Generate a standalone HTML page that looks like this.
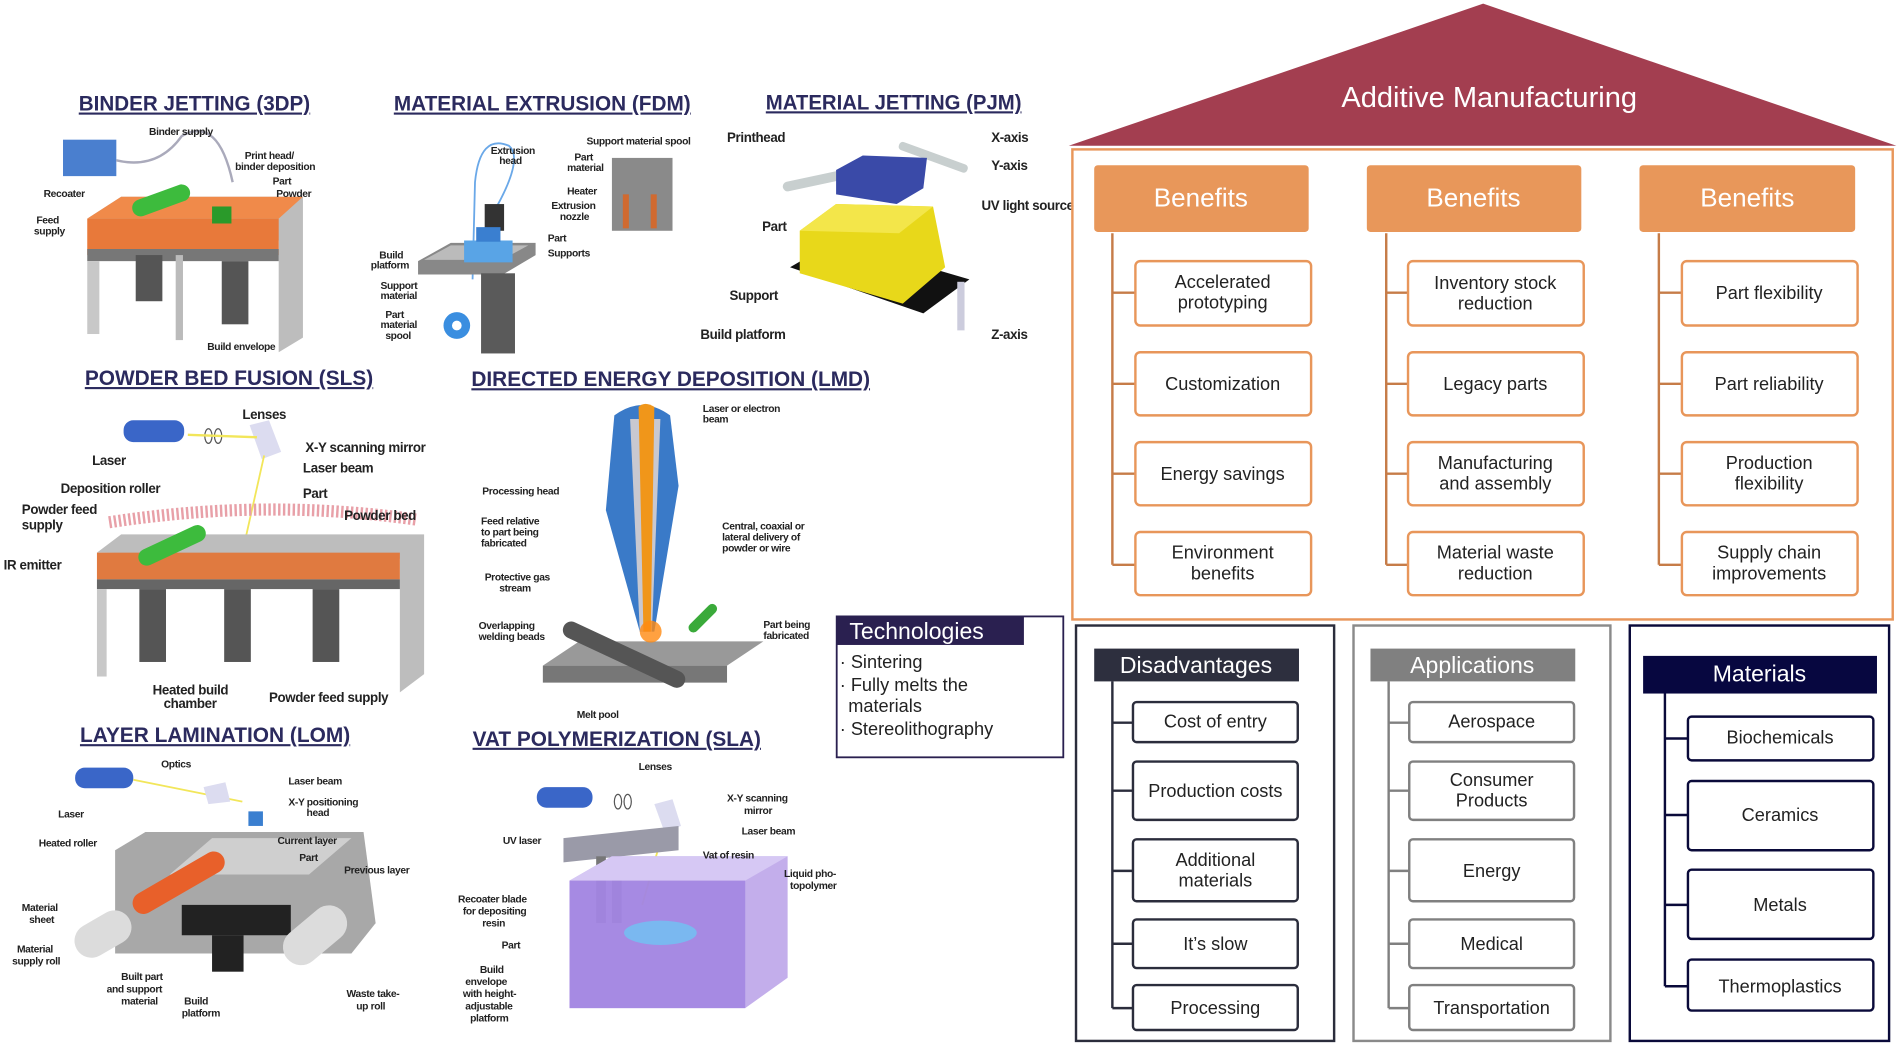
<!DOCTYPE html>
<html><head><meta charset="utf-8"><style>
html,body{margin:0;padding:0;background:#fff;overflow:hidden}
svg{display:block}
text{font-family:"Liberation Sans",sans-serif}
.t{font-weight:bold;font-size:17.5px;fill:#2b2a5e;text-decoration:underline;letter-spacing:0px}
.l{font-size:8.5px;font-weight:bold;fill:#222;letter-spacing:-0.3px}
.L{font-size:11px;font-weight:bold;fill:#222;letter-spacing:-0.3px}
.it{font-size:15px;fill:#222;text-anchor:middle}
.hd{font-size:21.5px;fill:#fff;text-anchor:middle}
.ln{stroke:#222;stroke-width:0.8;fill:none}
</style></head><body>
<svg width="1900" height="1047" viewBox="0 0 1568 862" preserveAspectRatio="none" xmlns="http://www.w3.org/2000/svg">
<rect width="1568" height="862" fill="#fff"/>

<text class="t" x="65" y="91" textLength="191" lengthAdjust="spacingAndGlyphs">BINDER JETTING (3DP)</text>
<text class="t" x="325" y="91" textLength="245" lengthAdjust="spacingAndGlyphs">MATERIAL EXTRUSION (FDM)</text>
<text class="t" x="632" y="90" textLength="211" lengthAdjust="spacingAndGlyphs">MATERIAL JETTING (PJM)</text>
<text class="t" x="70" y="317" textLength="238" lengthAdjust="spacingAndGlyphs">POWDER BED FUSION (SLS)</text>
<text class="t" x="389" y="318" textLength="329" lengthAdjust="spacingAndGlyphs">DIRECTED ENERGY DEPOSITION (LMD)</text>
<text class="t" x="66" y="611" textLength="223" lengthAdjust="spacingAndGlyphs">LAYER LAMINATION (LOM)</text>
<text class="t" x="390" y="614" textLength="238" lengthAdjust="spacingAndGlyphs">VAT POLYMERIZATION (SLA)</text>

<!-- Binder jetting -->
<rect x="52" y="115" width="44" height="30" fill="#4a7fcf"/>
<path d="M96 132 Q130 140 150 112 Q180 95 192 150" stroke="#aab" stroke-width="2" fill="none"/>
<polygon points="72,180 100,162 250,162 250,278 230,290 230,198" fill="#bdbdbd"/>
<rect x="72" y="180" width="158" height="30" fill="#e8793a"/>
<polygon points="72,180 100,162 250,162 230,180" fill="#f08a4a"/>
<rect x="72" y="205" width="158" height="10" fill="#777"/>
<rect x="72" y="215" width="10" height="60" fill="#c8c8c8"/>
<rect x="112" y="210" width="22" height="38" fill="#555"/>
<rect x="183" y="215" width="22" height="52" fill="#555"/>
<rect x="145" y="210" width="6" height="70" fill="#bbb"/>
<rect x="108" y="158" width="50" height="14" rx="7" fill="#3dbb3d" transform="rotate(-20 133 165)"/>
<rect x="175" y="170" width="16" height="14" fill="#2a9a2a"/>
<text class="l" x="123" y="111">Binder supply</text>
<text class="l" x="202" y="131">Print head/</text><text class="l" x="194" y="140">binder deposition</text>
<text class="l" x="225" y="152">Part</text><text class="l" x="228" y="162">Powder</text>
<text class="l" x="36" y="162">Recoater</text>
<text class="l" x="30" y="184">Feed</text><text class="l" x="28" y="193">supply</text>
<text class="l" x="171" y="288">Build envelope</text>

<!-- FDM -->
<path d="M390 230 L392 150 Q396 110 420 120 Q432 130 410 170" stroke="#6aa8e8" stroke-width="1.5" fill="none"/>
<rect x="400" y="168" width="16" height="22" fill="#333"/>
<polygon points="345,215 372,200 442,200 442,210 415,226 345,226" fill="#888"/>
<polygon points="350,214 372,202 436,202 414,214" fill="#bbb"/>
<rect x="383" y="198" width="40" height="18" fill="#59a4e6"/>
<rect x="393" y="187" width="20" height="12" fill="#3a7fd0"/>
<rect x="397" y="225" width="28" height="66" fill="#5a5a5a"/>
<circle cx="377" cy="268" r="11" fill="#3a8ee0"/><circle cx="377" cy="268" r="4" fill="#fff"/>
<rect x="505" y="130" width="50" height="60" fill="#8a8a8a"/>
<rect x="514" y="160" width="5" height="28" fill="#d06a30"/><rect x="537" y="160" width="5" height="28" fill="#d06a30"/>
<text class="l" x="405" y="127">Extrusion</text><text class="l" x="412" y="135">head</text>
<text class="l" x="484" y="119">Support material spool</text>
<text class="l" x="474" y="132">Part</text><text class="l" x="468" y="141">material</text>
<text class="l" x="468" y="160">Heater</text>
<text class="l" x="455" y="172">Extrusion</text><text class="l" x="462" y="181">nozzle</text>
<text class="l" x="452" y="199">Part</text><text class="l" x="452" y="211">Supports</text>
<text class="l" x="313" y="213">Build</text><text class="l" x="306" y="221">platform</text>
<text class="l" x="314" y="238">Support</text><text class="l" x="314" y="246">material</text>
<text class="l" x="318" y="262">Part</text><text class="l" x="314" y="270">material</text><text class="l" x="318" y="279">spool</text>

<!-- PJM -->
<rect x="645" y="140" width="100" height="8" rx="4" fill="#c8cfcf" transform="rotate(-12 695 144)"/>
<rect x="740" y="126" width="60" height="7" rx="3" fill="#c8cfcf" transform="rotate(20 770 130)"/>
<polygon points="652,220 690,198 800,230 762,258" fill="#111"/>
<polygon points="660,190 690,168 770,170 780,220 745,250 660,225" fill="#e8d81a"/>
<polygon points="660,190 690,168 770,170 742,192" fill="#f3e64a"/>
<polygon points="690,140 712,128 765,130 762,155 740,168 690,160" fill="#3a4aa8"/>
<rect x="790" y="232" width="6" height="40" fill="#ccd"/>
<text class="L" x="600" y="117">Printhead</text>
<text class="L" x="818" y="117">X-axis</text>
<text class="L" x="818" y="140">Y-axis</text>
<text class="L" x="810" y="173">UV light source</text>
<text class="L" x="629" y="190">Part</text>
<text class="L" x="602" y="247">Support</text>
<text class="L" x="578" y="279">Build platform</text>
<text class="L" x="818" y="279">Z-axis</text>

<!-- SLS -->
<rect x="102" y="346" width="50" height="18" rx="8" fill="#3a66c8"/>
<ellipse cx="172" cy="359" rx="3" ry="6" fill="none" stroke="#555"/><ellipse cx="180" cy="359" rx="3" ry="6" fill="none" stroke="#555"/>
<polygon points="206,350 222,346 232,372 216,378" fill="#dcdcf0"/>
<line x1="155" y1="358" x2="212" y2="360" stroke="#f2e65a" stroke-width="2"/>
<line x1="218" y1="375" x2="200" y2="455" stroke="#f2e65a" stroke-width="1.5"/>
<path d="M90 430 Q220 410 345 428" stroke="#e8a0a8" stroke-width="10" fill="none" stroke-dasharray="2 2"/>
<polygon points="80,455 100,440 350,440 350,555 330,570 330,460" fill="#bdbdbd"/>
<rect x="80" y="455" width="250" height="22" fill="#e07a40"/>
<rect x="80" y="477" width="250" height="8" fill="#666"/>
<rect x="80" y="485" width="8" height="72" fill="#c8c8c8"/>
<rect x="115" y="485" width="22" height="60" fill="#555"/><rect x="185" y="485" width="22" height="60" fill="#555"/><rect x="258" y="485" width="22" height="60" fill="#555"/>
<rect x="112" y="442" width="60" height="14" rx="7" fill="#3dbb3d" transform="rotate(-25 142 449)"/>
<text class="L" x="200" y="345">Lenses</text>
<text class="L" x="76" y="383">Laser</text>
<text class="L" x="252" y="372">X-Y scanning mirror</text>
<text class="L" x="250" y="389">Laser beam</text>
<text class="L" x="50" y="406">Deposition roller</text>
<text class="L" x="250" y="410">Part</text>
<text class="L" x="284" y="428">Powder bed</text>
<text class="L" x="18" y="423">Powder feed</text><text class="L" x="18" y="436">supply</text>
<text class="L" x="3" y="469">IR emitter</text>
<text class="L" x="126" y="572">Heated build</text><text class="L" x="135" y="583">chamber</text>
<text class="L" x="222" y="578">Powder feed supply</text>

<!-- LMD -->
<polygon points="448,548 478,528 630,528 600,548" fill="#999"/>
<polygon points="448,548 600,548 600,562 448,562" fill="#777"/>
<rect x="460" y="532" width="110" height="14" rx="7" fill="#555" transform="rotate(25 515 539)"/>
<path d="M507 342 Q530 325 553 342 L560 400 L540 520 L528 520 L500 420 Z" fill="#3a7ac8"/>
<path d="M520 345 L545 345 L538 520 L528 520 Z" fill="#c8c8d0"/>
<path d="M527 335 Q532 330 540 335 L537 520 L531 520 Z" fill="#f0961a"/>
<circle cx="537" cy="520" r="9" fill="#ff8a10" opacity="0.8"/>
<rect x="565" y="505" width="30" height="8" rx="4" fill="#3aaa3a" transform="rotate(-45 580 509)"/>
<text class="l" x="580" y="339">Laser or electron</text><text class="l" x="580" y="348">beam</text>
<text class="l" x="398" y="407">Processing head</text>
<text class="l" x="596" y="436">Central, coaxial or</text><text class="l" x="596" y="445">lateral delivery of</text><text class="l" x="596" y="454">powder or wire</text>
<text class="l" x="397" y="432">Feed relative</text><text class="l" x="397" y="441">to part being</text><text class="l" x="397" y="450">fabricated</text>
<text class="l" x="400" y="478">Protective gas</text><text class="l" x="412" y="487">stream</text>
<text class="l" x="395" y="518">Overlapping</text><text class="l" x="395" y="527">welding beads</text>
<text class="l" x="630" y="517">Part being</text><text class="l" x="630" y="526">fabricated</text>
<text class="l" x="476" y="591">Melt pool</text>

<!-- LOM -->
<rect x="62" y="632" width="48" height="17" rx="8" fill="#3a66c8"/>
<line x1="110" y1="642" x2="200" y2="660" stroke="#f2e65a" stroke-width="1.5"/>
<polygon points="168,648 186,644 190,660 172,662" fill="#dcdcf0"/>
<rect x="205" y="668" width="12" height="12" fill="#3a7fd0"/>
<polygon points="95,700 120,685 300,685 310,760 290,785 95,785" fill="#a8a8a8"/>
<polygon points="140,720 175,690 290,690 255,720" fill="#cfcfcf"/>
<rect x="150" y="745" width="90" height="25" fill="#222"/>
<rect x="175" y="770" width="26" height="30" fill="#222"/>
<rect x="105" y="718" width="85" height="18" rx="9" fill="#e8602a" transform="rotate(-30 147 727)"/>
<rect x="60" y="755" width="50" height="28" rx="14" fill="#dcdcdc" transform="rotate(-30 85 769)"/>
<rect x="230" y="755" width="60" height="30" rx="15" fill="#dcdcdc" transform="rotate(-40 260 770)"/>
<text class="l" x="133" y="632">Optics</text>
<text class="l" x="238" y="646">Laser beam</text>
<text class="l" x="238" y="663">X-Y positioning</text><text class="l" x="253" y="672">head</text>
<text class="l" x="48" y="673">Laser</text>
<text class="l" x="32" y="697">Heated roller</text>
<text class="l" x="229" y="695">Current layer</text>
<text class="l" x="247" y="709">Part</text>
<text class="l" x="284" y="719">Previous layer</text>
<text class="l" x="18" y="750">Material</text><text class="l" x="24" y="760">sheet</text>
<text class="l" x="14" y="784">Material</text><text class="l" x="10" y="794">supply roll</text>
<text class="l" x="100" y="807">Built part</text><text class="l" x="88" y="817">and support</text><text class="l" x="100" y="827">material</text>
<text class="l" x="152" y="827">Build</text><text class="l" x="150" y="837">platform</text>
<text class="l" x="286" y="821">Waste take-</text><text class="l" x="294" y="831">up roll</text>

<!-- SLA -->
<rect x="443" y="648" width="46" height="17" rx="8" fill="#3a66c8"/>
<ellipse cx="510" cy="660" rx="3" ry="6" fill="none" stroke="#555"/><ellipse cx="518" cy="660" rx="3" ry="6" fill="none" stroke="#555"/>
<polygon points="540,662 555,658 562,680 548,684" fill="#dcdcf0"/>
<line x1="548" y1="682" x2="530" y2="745" stroke="#f2e65a" stroke-width="1.5"/>
<polygon points="465,690 560,680 560,700 465,710" fill="#9a9aa8"/>
<rect x="492" y="705" width="8" height="55" fill="#777"/><rect x="505" y="705" width="8" height="55" fill="#777"/>
<polygon points="470,725 505,705 650,705 650,805 615,830 470,830" fill="#b8a0e8" opacity="0.85"/>
<polygon points="470,725 505,705 650,705 615,725" fill="#d6c8f4"/>
<polygon points="470,725 615,725 615,830 470,830" fill="#9a7ae0" opacity="0.7"/>
<ellipse cx="545" cy="768" rx="30" ry="10" fill="#7ab8f0"/>
<text class="l" x="527" y="634">Lenses</text>
<text class="l" x="600" y="660">X-Y scanning</text><text class="l" x="614" y="670">mirror</text>
<text class="l" x="612" y="687">Laser beam</text>
<text class="l" x="580" y="707">Vat of resin</text>
<text class="l" x="647" y="722">Liquid pho-</text><text class="l" x="652" y="732">topolymer</text>
<text class="l" x="415" y="695">UV laser</text>
<text class="l" x="378" y="743">Recoater blade</text><text class="l" x="382" y="753">for depositing</text><text class="l" x="398" y="763">resin</text>
<text class="l" x="414" y="781">Part</text>
<text class="l" x="396" y="801">Build</text><text class="l" x="384" y="811">envelope</text><text class="l" x="382" y="821">with height-</text><text class="l" x="384" y="831">adjustable</text><text class="l" x="388" y="841">platform</text>

<!-- Technologies -->
<rect x="690.5" y="507.5" width="187" height="116" fill="#fff" stroke="#2a2050" stroke-width="1.5"/>
<rect x="690" y="507" width="155" height="24" fill="#2a2050"/>
<text x="701" y="526" font-size="19" fill="#fff">Technologies</text>
<text x="693" y="550" font-size="15" fill="#222">· Sintering</text>
<text x="693" y="569" font-size="15" fill="#222">· Fully melts the</text>
<text x="700" y="586" font-size="15" fill="#222">materials</text>
<text x="693" y="605" font-size="15" fill="#222">· Stereolithography</text>

<!-- Right diagram -->
<polygon points="882,120 1224,3 1565,120" fill="#a33e50"/>
<text x="1229" y="88" font-size="24" fill="#fff" text-anchor="middle">Additive Manufacturing</text>
<rect x="885" y="123" width="677" height="387" fill="none" stroke="#e8965a" stroke-width="2"/>

<g fill="#e8975a">
<rect x="903" y="136" width="177" height="55" rx="3"/>
<rect x="1128" y="136" width="177" height="55" rx="3"/>
<rect x="1353" y="136" width="178" height="55" rx="3"/>
</g>
<text class="hd" x="991" y="170">Benefits</text>
<text class="hd" x="1216" y="170">Benefits</text>
<text class="hd" x="1442" y="170">Benefits</text>

<g stroke="#c67c48" stroke-width="2" fill="none">
<path d="M918 192 V465 M918 241 H937 M918 316 H937 M918 390 H937 M918 465 H937"/>
<path d="M1144 192 V465 M1144 241 H1162 M1144 316 H1162 M1144 390 H1162 M1144 465 H1162"/>
<path d="M1369 192 V465 M1369 241 H1388 M1369 316 H1388 M1369 390 H1388 M1369 465 H1388"/>
</g>
<g fill="#fff" stroke="#e8965a" stroke-width="2">
<rect x="937" y="215" width="145" height="53" rx="4"/><rect x="937" y="290" width="145" height="52" rx="4"/><rect x="937" y="364" width="145" height="52" rx="4"/><rect x="937" y="438" width="145" height="52" rx="4"/>
<rect x="1162" y="215" width="145" height="53" rx="4"/><rect x="1162" y="290" width="145" height="52" rx="4"/><rect x="1162" y="364" width="145" height="52" rx="4"/><rect x="1162" y="438" width="145" height="52" rx="4"/>
<rect x="1388" y="215" width="145" height="53" rx="4"/><rect x="1388" y="290" width="145" height="52" rx="4"/><rect x="1388" y="364" width="145" height="52" rx="4"/><rect x="1388" y="438" width="145" height="52" rx="4"/>
</g>
<text class="it" x="1009" y="237">Accelerated</text><text class="it" x="1009" y="254">prototyping</text>
<text class="it" x="1009" y="321">Customization</text>
<text class="it" x="1009" y="395">Energy savings</text>
<text class="it" x="1009" y="460">Environment</text><text class="it" x="1009" y="477">benefits</text>
<text class="it" x="1234" y="238">Inventory stock</text><text class="it" x="1234" y="255">reduction</text>
<text class="it" x="1234" y="321">Legacy parts</text>
<text class="it" x="1234" y="386">Manufacturing</text><text class="it" x="1234" y="403">and assembly</text>
<text class="it" x="1234" y="460">Material waste</text><text class="it" x="1234" y="477">reduction</text>
<text class="it" x="1460" y="246">Part flexibility</text>
<text class="it" x="1460" y="321">Part reliability</text>
<text class="it" x="1460" y="386">Production</text><text class="it" x="1460" y="403">flexibility</text>
<text class="it" x="1460" y="460">Supply chain</text><text class="it" x="1460" y="477">improvements</text>

<!-- Disadvantages -->
<rect x="888" y="515" width="213" height="342" fill="none" stroke="#2b2d3c" stroke-width="2"/>
<rect x="903" y="534" width="169" height="27" fill="#2d2f3e"/>
<text x="987" y="554" font-size="19" fill="#fff" text-anchor="middle">Disadvantages</text>
<path d="M918 561 V830 M918 595 H935 M918 651 H935 M918 717 H935 M918 777 H935 M918 830 H935" stroke="#2b2d3c" stroke-width="2" fill="none"/>
<g fill="#fff" stroke="#2b2d3c" stroke-width="2">
<rect x="935" y="578" width="136" height="33" rx="3"/><rect x="935" y="627" width="136" height="48" rx="3"/><rect x="935" y="691" width="136" height="51" rx="3"/><rect x="935" y="757" width="136" height="40" rx="3"/><rect x="935" y="811" width="136" height="37" rx="3"/>
</g>
<text class="it" x="1003" y="599">Cost of entry</text>
<text class="it" x="1003" y="656">Production costs</text>
<text class="it" x="1003" y="713">Additional</text><text class="it" x="1003" y="730">materials</text>
<text class="it" x="1003" y="782">It’s slow</text>
<text class="it" x="1003" y="835">Processing</text>

<!-- Applications -->
<rect x="1117" y="515" width="212" height="342" fill="none" stroke="#8a8a8a" stroke-width="2"/>
<rect x="1131" y="534" width="169" height="27" fill="#808080"/>
<text x="1215" y="554" font-size="19" fill="#fff" text-anchor="middle">Applications</text>
<path d="M1146 561 V830 M1146 595 H1163 M1146 651 H1163 M1146 717 H1163 M1146 777 H1163 M1146 830 H1163" stroke="#808080" stroke-width="2" fill="none"/>
<g fill="#fff" stroke="#808080" stroke-width="2">
<rect x="1163" y="578" width="136" height="33" rx="3"/><rect x="1163" y="627" width="136" height="48" rx="3"/><rect x="1163" y="691" width="136" height="51" rx="3"/><rect x="1163" y="757" width="136" height="40" rx="3"/><rect x="1163" y="811" width="136" height="37" rx="3"/>
</g>
<text class="it" x="1231" y="599">Aerospace</text>
<text class="it" x="1231" y="647">Consumer</text><text class="it" x="1231" y="664">Products</text>
<text class="it" x="1231" y="722">Energy</text>
<text class="it" x="1231" y="782">Medical</text>
<text class="it" x="1231" y="835">Transportation</text>

<!-- Materials -->
<rect x="1345" y="515" width="214" height="342" fill="none" stroke="#0a0a3a" stroke-width="2"/>
<rect x="1356" y="540" width="193" height="31" fill="#070740"/>
<text x="1452" y="561" font-size="19" fill="#fff" text-anchor="middle">Materials</text>
<path d="M1374 571 V812 M1374 608 H1393 M1374 671 H1393 M1374 745 H1393 M1374 812 H1393" stroke="#0a0a3a" stroke-width="2" fill="none"/>
<g fill="#fff" stroke="#0a0a3a" stroke-width="2">
<rect x="1393" y="590" width="153" height="36" rx="3"/><rect x="1393" y="643" width="153" height="57" rx="3"/><rect x="1393" y="716" width="153" height="57" rx="3"/><rect x="1393" y="790" width="153" height="42" rx="3"/>
</g>
<text class="it" x="1469" y="612">Biochemicals</text>
<text class="it" x="1469" y="676">Ceramics</text>
<text class="it" x="1469" y="750">Metals</text>
<text class="it" x="1469" y="817">Thermoplastics</text>
</svg>
</body></html>
